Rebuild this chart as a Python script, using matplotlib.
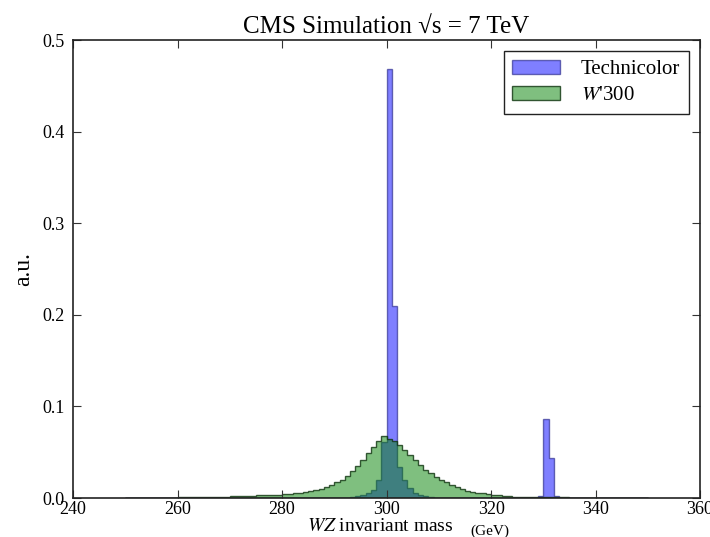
import numpy as np
import matplotlib
matplotlib.use('Agg')
import matplotlib.pyplot as plt

plt.rcParams['font.family'] = ['Liberation Serif', 'DejaVu Serif']
plt.rcParams['mathtext.fontset'] = 'stix'

# bin edges (GeV), 1 GeV bins from 250 to 350
edges = np.arange(250, 351, 1)

# W'300 : per-bin fraction, bins 250..349
wprime = ([0.0005]*10 + [0.001]*5 + [0.0015]*5 + [0.002]*5 + [0.003]*5 +
          [0.004, 0.0045, 0.005, 0.006, 0.007, 0.008, 0.009, 0.010, 0.012, 0.014,
           0.017, 0.020, 0.024, 0.029, 0.035, 0.042, 0.049, 0.056, 0.062, 0.068,
           0.064, 0.062, 0.058, 0.052, 0.047, 0.041, 0.036, 0.031, 0.027, 0.023,
           0.020, 0.017, 0.014, 0.012, 0.010, 0.008, 0.007, 0.006, 0.005, 0.004,
           0.0035, 0.003, 0.0025, 0.002, 0.0015] +
          [0.001]*10 + [0.0005]*15)

# Technicolor : per-bin fraction, bins 250..349
techni = ([0.0004]*43 +
          [0.001, 0.002, 0.003, 0.005, 0.009, 0.020, 0.061,
           0.468, 0.210,
           0.034, 0.020, 0.011, 0.005, 0.003, 0.002, 0.001] +
          [0.0004]*20 +
          [0.002, 0.086, 0.044, 0.002] +
          [0.0004]*17)

fig = plt.figure(figsize=(7.10, 5.37), dpi=100)
ax = fig.add_axes([0.103, 0.0726, 0.883, 0.8529])

centers = edges[:-1] + 0.5
ax.hist(centers, bins=edges, weights=techni, histtype='stepfilled',
        facecolor=(0, 0, 1, 0.5), edgecolor=(0.1, 0.1, 0.5, 0.6), linewidth=1.0,
        label='Technicolor')
ax.hist(centers, bins=edges, weights=wprime, histtype='stepfilled',
        facecolor=(0, 0.5, 0, 0.5), edgecolor=(0.05, 0.2, 0.05, 0.8), linewidth=1.0,
        label="$W$'300")

ax.set_xlim(240, 360)
ax.set_ylim(0, 0.5)
ax.set_xticks(range(240, 361, 20))
ax.set_yticks([0.0, 0.1, 0.2, 0.3, 0.4, 0.5])
ax.set_yticklabels(['0.0', '0.1', '0.2', '0.3', '0.4', '0.5'])
ax.tick_params(direction='in', top=True, right=True, length=6, width=0.8,
               labelsize=13, colors='#333333', labelcolor='black')
ax.tick_params(axis='x', pad=2)
ax.tick_params(axis='y', pad=6)
for s in ax.spines.values():
    s.set_linewidth(1.2)
    s.set_color('#222222')

ax.set_title('CMS Simulation \u221as = 7 TeV', fontsize=18, pad=5)
ax.set_ylabel('a.u.', fontsize=17, labelpad=6)
ax.text(0.49, -0.044, '$WZ$ invariant mass', transform=ax.transAxes,
        ha='center', va='top', fontsize=14)
ax.text(0.664, -0.057, '(GeV)', transform=ax.transAxes,
        ha='center', va='top', fontsize=11)

leg = ax.legend(loc='upper right', fontsize=15, fancybox=False,
                framealpha=1, edgecolor='#222222', borderpad=0.4,
                handlelength=2.3, handleheight=0.7, labelspacing=0.3,
                handletextpad=1.0, borderaxespad=0.55)
leg.get_frame().set_linewidth(1.0)

fig.savefig('out.png', dpi=100)
